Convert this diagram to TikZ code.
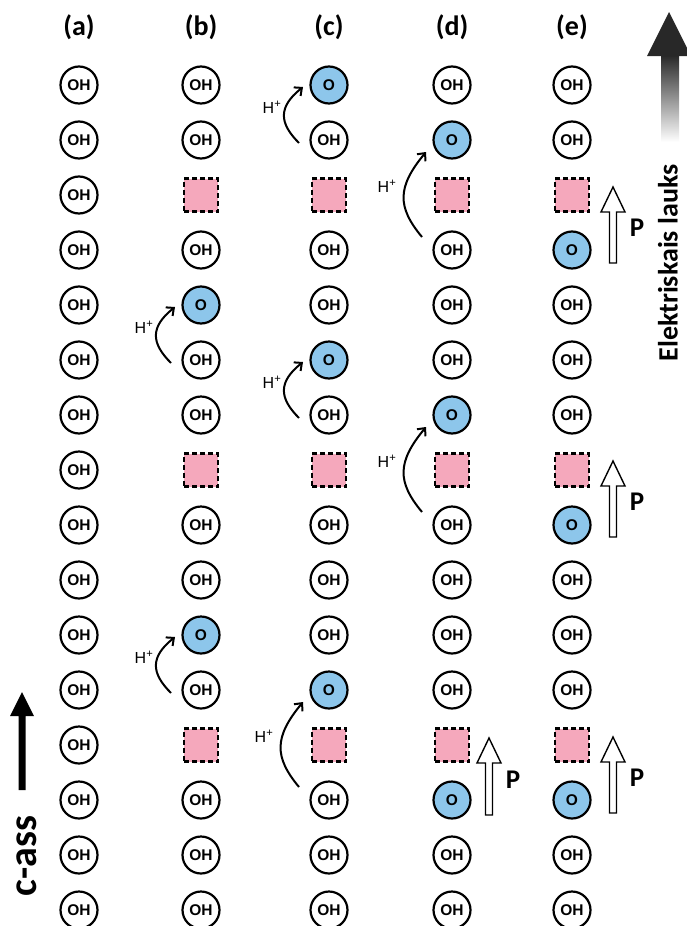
\documentclass[tikz,border=0pt]{standalone}
\usepackage{fontspec}
\setmainfont{Carlito}
\newfontfamily\ohfont{Liberation Sans}
\usetikzlibrary{arrows.meta}
\definecolor{oblue}{RGB}{141,198,235}
\definecolor{vpink}{RGB}{245,168,188}
\definecolor{fielddark}{RGB}{40,40,40}
\def\txtohs{OH}
\def\txtoxs{O}
\def\txtvacs{}
\newcommand\hjumpone[3]{%
  \draw[hp] ([shift={(-30,3)}]#1.center) .. controls +(-20,-20) and +(-25,20) .. ([shift={(-26,2)}]#2.center);
  \node[hlab] (#3) at ([shift={(-57,-33)}]#1.center) {H\textsuperscript{+}};}
\newcommand\hjumptwo[3]{%
  \draw[hp] ([shift={(-30,-13)}]#1.center) .. controls +(-25,-30) and +(-29,35) .. ([shift={(-26,12)}]#2.center);
  \node[hlab] (#3) at ([shift={(-65,-64)}]#1.center) {H\textsuperscript{+}};}
\newcommand\parrow[4]{%
  \draw[parrowstyle] ({#2-3.5},#4) -- ({#2-3.5},{#3+25}) -- ({#2-12},{#3+25}) -- (#2,#3) -- ({#2+12},{#3+25}) -- ({#2+3.5},{#3+25}) -- ({#2+3.5},#4) -- cycle;
  \node[plab] (#1) at ({#2+24},{(#3+#4)/2+3}) {P};}
\begin{document}
\begin{tikzpicture}[x=1pt,y=-1pt,
  ohs/.style={circle,draw=black,line width=2.2pt,minimum size=37pt,inner sep=0pt,font=\ohfont\bfseries\fontsize{15.5}{15.5}\selectfont},
  oxs/.style={ohs,fill=oblue},
  vacs/.style={rectangle,draw=black,line width=2.2pt,dash pattern=on 5pt off 3pt,fill=vpink,minimum width=34pt,minimum height=33pt,inner sep=0pt},
  hp/.style={line width=2pt,-{Straight Barb[length=6pt,width=11pt,line width=2pt]}},
  hlab/.style={font=\ohfont\fontsize{16}{16}\selectfont,inner sep=0pt},
  collab/.style={font=\bfseries\fontsize{28}{28}\selectfont},
  parrowstyle/.style={draw=black,line width=1.4pt,fill=white},
  plab/.style={font=\bfseries\fontsize{27}{27}\selectfont}
]
\fill[white] (0,0) rectangle (687,926);
\useasboundingbox (0,0) rectangle (687,926);
% column labels
\node[collab] (la) at (79,27) {(a)};
\node[collab] (lb) at (201,27) {(b)};
\node[collab] (lc) at (329,27) {(c)};
\node[collab] (ld) at (452,27) {(d)};
\node[collab] (le) at (572,27) {(e)};
% columns
\foreach \r in {1,...,16} \node[ohs] (a\r) at (79,{85+55*(\r-1)}) {OH};
\foreach \t [count=\r] in {ohs,ohs,vacs,ohs,oxs,ohs,ohs,vacs,ohs,ohs,oxs,ohs,vacs,ohs,ohs,ohs}
  \node[\t] (b\r) at (201,{85+55*(\r-1)}) {\csname txt\t\endcsname};
\foreach \t [count=\r] in {oxs,ohs,vacs,ohs,ohs,oxs,ohs,vacs,ohs,ohs,ohs,oxs,vacs,ohs,ohs,ohs}
  \node[\t] (c\r) at (329,{85+55*(\r-1)}) {\csname txt\t\endcsname};
\foreach \t [count=\r] in {ohs,oxs,vacs,ohs,ohs,ohs,oxs,vacs,ohs,ohs,ohs,ohs,vacs,oxs,ohs,ohs}
  \node[\t] (d\r) at (452,{85+55*(\r-1)}) {\csname txt\t\endcsname};
\foreach \t [count=\r] in {ohs,ohs,vacs,oxs,ohs,ohs,ohs,vacs,oxs,ohs,ohs,ohs,vacs,oxs,ohs,ohs}
  \node[\t] (e\r) at (572,{85+55*(\r-1)}) {\csname txt\t\endcsname};
% proton jumps
\hjumpone{b6}{b5}{hb1}
\hjumpone{b12}{b11}{hb2}
\hjumpone{c2}{c1}{hc1}
\hjumpone{c7}{c6}{hc2}
\hjumptwo{c14}{c12}{hc3}
\hjumptwo{d4}{d2}{hd1}
\hjumptwo{d9}{d7}{hd2}
% polarisation arrows
\parrow{pd}{489}{738}{815}
\parrow{pe1}{613}{187}{263}
\parrow{pe2}{613}{461}{537}
\parrow{pe3}{613}{737}{813}
% c-axis arrow
\fill[black] (18.5,790) -- (18.5,716) -- (10,716) -- (22,692) -- (34,716) -- (25.5,716) -- (25.5,790) -- cycle;
\node[rotate=90,font=\bfseries\fontsize{40}{40}\selectfont] (caxis) at (27,856) {c-ass};
% electric field arrow
\shade[top color=fielddark,bottom color=white] (661,55) rectangle (679,142);
\fill[fielddark] (669,12) -- (691,56) -- (647,56) -- cycle;
\node[rotate=90,font=\bfseries\fontsize{28}{28}\selectfont] (field) at (668,263) {Elektriskais lauks};
\end{tikzpicture}
\end{document}
